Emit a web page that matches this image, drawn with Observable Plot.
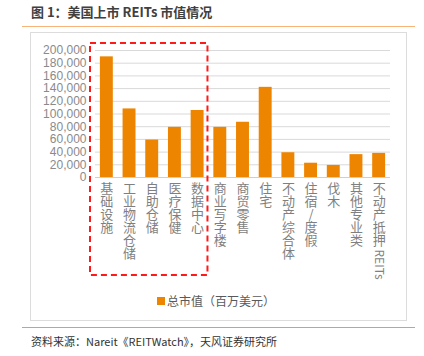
<!DOCTYPE html>
<html>
<head>
<meta charset="utf-8">
<script src="https://cdn.jsdelivr.net/npm/d3@7"></script>
<script src="https://cdn.jsdelivr.net/npm/@observablehq/plot@0.6"></script>
<style>
  html, body { margin: 0; padding: 0; background: #fff; }
  #page { position: relative; width: 424px; height: 356px; overflow: hidden; font-family: "Noto Sans CJK SC", "Liberation Sans", sans-serif; }
  #title { position: absolute; left: 31px; top: 3px; font-size: 13px; line-height: 17px; font-weight: 700; color: #404040; white-space: nowrap; }
  #topline { position: absolute; left: 22px; top: 25.5px; width: 393px; height: 1.5px; background: #F7B37A; }
  #box { position: absolute; left: 30px; top: 32px; width: 375px; height: 287px; border: 1.5px solid #dcdcdc; }
  #chart { position: absolute; left: 0; top: 33px; }
  #legend { position: absolute; left: 157px; top: 293px; font-size: 12px; line-height: 16px; color: #595959; white-space: nowrap; display: flex; align-items: center; }
  #legend .sw { width: 8px; height: 8px; background: #EE8500; margin-right: 2px; }
  #botline { position: absolute; left: 22px; top: 326.5px; width: 393px; height: 1.5px; background: #F29A3E; }
  #source { position: absolute; left: 31px; top: 333px; font-size: 11px; line-height: 16px; color: #333; white-space: nowrap; }
</style>
</head>
<body>
<div id="page">
  <div id="title">图 1：美国上市 REITs 市值情况</div>
  <div id="topline"></div>
  <div id="box"></div>
  <div id="chart"></div>
  <div id="legend"><span class="sw"></span><span id="legendText"></span></div>
  <div id="botline"></div>
  <div id="source">资料来源：Nareit《REITWatch》，天风证券研究所</div>
</div>
<script>
const categories = ["基础设施", "工业物流仓储", "自助仓储", "医疗保健", "数据中心", "商业写字楼", "商贸零售", "住宅", "不动产综合体", "住宿/度假", "伐木", "其他专业类", "不动产抵押REITs"];
const values = [190000, 108000, 59000, 79000, 105500, 79000, 87000, 142000, 39000, 22500, 19000, 36000, 38000];
const highlighted = ["基础设施", "工业物流仓储", "自助仓储", "医疗保健", "数据中心"];
const yTicks = [0, 20000, 40000, 60000, 80000, 100000, 120000, 140000, 160000, 180000, 200000];
const seriesName = "总市值（百万美元）";

document.getElementById("legendText").textContent = seriesName;

const data = categories.map((c, i) => ({category: c, value: values[i]}));

// split each label into upright CJK part (stacked chars) and a Latin run (rotated)
const labelFont = 13;
const labels = categories.map(c => {
  const m = c.match(/^([^A-Za-z]*)([A-Za-z].*)?$/);
  const cjk = m[1];
  const latin = m[2] || null;
  return {category: c, stacked: Array.from(cjk).join("\n"), latin, n: Array.from(cjk).length};
});
const latinLabels = labels.filter(d => d.latin);
const latinOffset = latinLabels.length ? 6 + latinLabels[0].n * labelFont + 1 : 0;

const chart = Plot.plot({
  width: 424,
  height: 256,
  marginLeft: 95,
  marginRight: 34,
  marginTop: 17,
  marginBottom: 112,
  style: {fontFamily: "'Liberation Sans', 'Noto Sans CJK SC', sans-serif", fontSize: "12px", background: "transparent"},
  x: {domain: categories, paddingInner: 0.43, paddingOuter: 0.215, round: false, axis: null},
  y: {domain: [0, 200000], axis: null},
  marks: [
    Plot.ruleY(yTicks.filter(d => d > 0), {stroke: "#d9d9d9", strokeWidth: 1}),
    Plot.ruleY([0], {stroke: "#cfcfcf", strokeWidth: 1}),
    Plot.barY(data, {x: "category", y: "value", fill: "#EE8500"}),
    Plot.axisY({ticks: yTicks, tickSize: 0, tickPadding: 9, tickFormat: d3.format(","), label: null, fill: "#8a8a8a", fontSize: 12}),
    Plot.text(labels, {x: "category", frameAnchor: "bottom", dy: 6, text: "stacked", lineAnchor: "top", lineHeight: 1, textAnchor: "middle", fill: "#7f7f7f", fontSize: labelFont, fontFamily: "'Noto Sans CJK SC', sans-serif"}),
    Plot.text(latinLabels, {x: "category", frameAnchor: "bottom", dy: latinOffset, text: "latin", rotate: 90, textAnchor: "start", lineAnchor: "middle", fill: "#7f7f7f", fontSize: 12, fontFamily: "'Noto Sans CJK SC', sans-serif"})
  ]
});

document.getElementById("chart").appendChild(chart);

const svg = d3.select(chart);

// red dashed annotation box around highlighted categories
const xs = chart.scale("x");
const ys = chart.scale("y");
const gap = xs.step - xs.bandwidth;
const bx0 = xs.apply(highlighted[0]) - gap / 2 - 5;
const bx1 = xs.apply(highlighted[highlighted.length - 1]) + xs.bandwidth + gap / 2 - 1;
const by0 = ys.apply(200000) - 7;
const by1 = ys.apply(0) + 98;
svg.append("rect")
  .attr("x", bx0).attr("y", by0)
  .attr("width", bx1 - bx0).attr("height", by1 - by0)
  .attr("fill", "none").attr("stroke", "#ff1a1a")
  .attr("stroke-width", 2).attr("stroke-dasharray", "6,4");
</script>
</body>
</html>
